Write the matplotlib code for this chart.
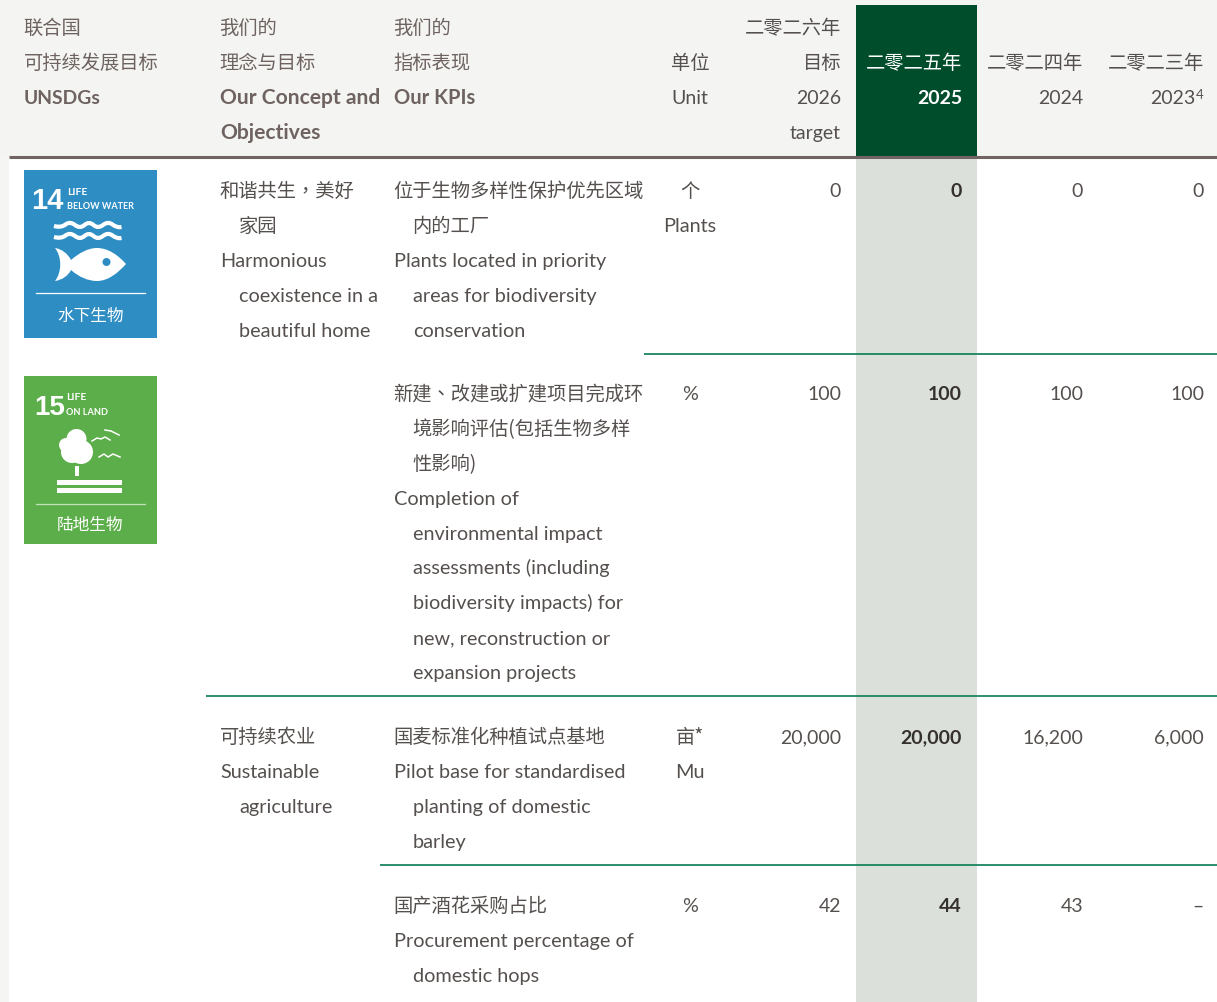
import matplotlib
matplotlib.use('Agg')
import matplotlib.pyplot as plt
from matplotlib.patches import Rectangle, Circle, PathPatch
from matplotlib.path import Path

# table content
un_head = ['联合国', '可持续发展目标', 'UNSDGs']
concept_head = ['我们的', '理念与目标', 'Our Concept and', 'Objectives']
kpi_head = ['我们的', '指标表现', 'Our KPIs']
unit_head = ['单位', 'Unit']
target_head = ['二零二六年', '目标', '2026', 'target']
y2025_head = ['二零二五年', '2025']
y2024_head = ['二零二四年', '2024']
y2023_head = ['二零二三年', '2023']

concepts = [
    [['和谐共生\uff0c美好', '家园'], ['Harmonious', 'coexistence in a', 'beautiful home']],
    [['可持续农业'], ['Sustainable', 'agriculture']],
]
kpis = [
    [['位于生物多样性保护优先区域', '内的工厂'],
     ['Plants located in priority', 'areas for biodiversity', 'conservation']],
    [['新建、改建或扩建项目完成环', '境影响评估(包括生物多样', '性影响)'],
     ['Completion of', 'environmental impact', 'assessments (including',
      'biodiversity impacts) for', 'new, reconstruction or', 'expansion projects']],
    [['国麦标准化种植试点基地'],
     ['Pilot base for standardised', 'planting of domestic', 'barley']],
    [['国产酒花采购占比'], ['Procurement percentage of', 'domestic hops']],
]
units = [['个', 'Plants'], ['%'], ['亩*', 'Mu'], ['%']]
target_2026 = ['0', '100', '20,000', '42']
values_2025 = ['0', '100', '20,000', '44']
values_2024 = ['0', '100', '16,200', '43']
values_2023 = ['0', '100', '6,000', '–']

row_tops = [190, 393, 736, 905]
concept_tops = [190, 736]
PITCH = 34.9

HEAD = '#6e6360'
BODY = '#55504e'
BOLD = '#35312f'
LATIN = ['Lato', 'Noto Sans CJK SC']
LATIN_PT = 14.3
DIGIT_PT = 14
CJK_PT = 13.9

fig = plt.figure(figsize=(12.17, 10.03), dpi=100)
ax = fig.add_axes([0, 0, 1, 1])
ax.set_xlim(0, 1217)
ax.set_ylim(1002, -1)
ax.axis('off')


def is_cjk(s):
    return any(ord(c) > 0x2E80 for c in s)


def put(x, y, s, ha='left', color=BODY, bold=False, pt=None):
    # y is the middle of the line, baseline sits 6px lower
    if is_cjk(s):
        fam = ['Noto Sans CJK TC'] if ('\uff0c' in s or '、' in s) else ['Noto Sans CJK SC']
        size = pt or CJK_PT
        if ha == 'left':
            x -= 1.5
    else:
        fam = LATIN
        size = pt or LATIN_PT
        if ha == 'left':
            x -= 1
    ax.text(x, y + 6, s, ha=ha, va='baseline', family=fam, fontsize=size, color=color,
            fontweight='bold' if bold else 'normal', zorder=5)


def box(x0, y0, x1, y1, color, z=1, **kw):
    ax.add_patch(Rectangle((x0, y0), x1 - x0, y1 - y0, fc=color, ec='none', zorder=z, **kw))


def hang(x, y, paragraphs):
    # first line of each paragraph at x, the others indented
    for para in paragraphs:
        for i, line in enumerate(para):
            put(x + (19 if i else 0), y, line)
            y += PITCH


# background
box(0, 0, 1217, 157, '#f4f5f3')
box(0, 157, 9, 1003, '#f5f6f4')
box(856, 157, 977, 1003, '#dbe0db')
box(856, 5, 977, 157, '#004d2b', z=2)

# rules
ax.plot([9, 1217], [157, 157], color='#6f6461', lw=2.2, zorder=3, solid_capstyle='butt')
for x0, x1, y in [(644, 1217, 354.3), (206, 1217, 696.3), (380, 1217, 865.3)]:
    ax.plot([x0, x1], [y, y], color='#1a8560', lw=1.3, zorder=3, solid_capstyle='butt')

# header
for i, s in enumerate(un_head):
    put(25, 27 + i * 35, s, color=HEAD, bold=(i == 2), pt=13.9 if i == 2 else None)
for i, s in enumerate(concept_head):
    put(221, 27 + i * 35, s, color=HEAD, bold=(i >= 2), pt=15.1 if i >= 2 else None)
for i, s in enumerate(kpi_head):
    put(395, 27 + i * 35, s, color=HEAD, bold=(i == 2), pt=14.5 if i == 2 else None)
for i, s in enumerate(unit_head):
    put(690, 62 + i * 35, s, ha='center', pt=14 if i == 1 else None)
for i, s in enumerate(target_head):
    put(841, 27 + i * 35, s, ha='right', pt=DIGIT_PT if i >= 2 else None)
for i, s in enumerate(y2025_head):
    put(962, 62 + i * 35, s, ha='right', color='white', bold=(i == 1), pt=DIGIT_PT if i == 1 else None)
for i, s in enumerate(y2024_head):
    put(1083, 62 + i * 35, s, ha='right', pt=DIGIT_PT if i == 1 else None)
put(1204, 62, y2023_head[0], ha='right')
put(1195, 97, y2023_head[1], ha='right', pt=DIGIT_PT)
put(1197, 92, '4', pt=9.5)

# body
for y, para in zip(concept_tops, concepts):
    hang(221, y, para)
for y, para in zip(row_tops, kpis):
    hang(395, y, para)
for y, lines in zip(row_tops, units):
    for i, s in enumerate(lines):
        put(690, y + i * PITCH, s, ha='center')
for i, y in enumerate(row_tops):
    put(841, y, target_2026[i], ha='right', pt=DIGIT_PT)
    put(962, y, values_2025[i], ha='right', color=BOLD, bold=True, pt=DIGIT_PT)
    put(1083, y, values_2024[i], ha='right', pt=DIGIT_PT)
    put(1204, y, values_2023[i], ha='right', pt=DIGIT_PT)

# SDG 14 tile
BLUE = '#2e8dc3'
box(24, 170, 157, 338, BLUE)
ax.text(31, 208, '14', family='Liberation Sans', fontweight='bold', fontsize=21, color='white', zorder=5)
ax.text(67, 193.5, 'LIFE', family='Lato', fontweight='bold', fontsize=7.5, color='white', zorder=5)
ax.text(67, 208, 'BELOW WATER', family='Lato', fontweight='bold', fontsize=6.5, color='white', zorder=5)
for wy in (225, 236):
    xs = [54, 61, 70, 80, 89, 98, 108, 117, 126]
    ys = [wy + 1, wy + 3, wy - 4, wy + 4, wy - 4, wy + 4, wy - 4, wy + 3, wy + 1]
    verts = [(xs[0], ys[0])]
    codes = [Path.MOVETO]
    for i in range(1, len(xs) - 1):
        verts += [(xs[i], ys[i]), ((xs[i] + xs[i + 1]) / 2, (ys[i] + ys[i + 1]) / 2)]
        codes += [Path.CURVE3, Path.CURVE3]
    ax.add_patch(PathPatch(Path(verts, codes), fc='none', ec='white', lw=3.0, zorder=4))
fish = Path(
    [(71, 260), (79, 253), (88, 248), (97, 248),
     (108, 248), (118, 255), (126, 264),
     (118, 273), (108, 281), (97, 281),
     (88, 281), (79, 277), (71, 270),
     (68, 276), (62, 280), (55, 281),
     (62, 272), (62, 257), (55, 248),
     (62, 249), (68, 254), (71, 260)],
    [Path.MOVETO] + [Path.CURVE4] * 21)
ax.add_patch(PathPatch(fish, fc='white', ec='none', zorder=4))
ax.add_patch(Circle((106.5, 262), 4, fc=BLUE, ec='none', zorder=5))
ax.plot([36, 145], [293, 293], color='white', lw=0.9, zorder=4)
ax.text(90.5, 315, '水下生物', family='Noto Sans CJK SC', fontsize=12, color='white',
        ha='center', va='center', zorder=5)

# SDG 15 tile
GREEN = '#5cae4a'
box(24, 376, 157, 544, GREEN)
ax.text(34, 414, '15', family='Liberation Sans', fontweight='bold', fontsize=20, color='white', zorder=5)
ax.text(66, 399, 'LIFE', family='Lato', fontweight='bold', fontsize=7.5, color='white', zorder=5)
ax.text(66, 414, 'ON LAND', family='Lato', fontweight='bold', fontsize=6.6, color='white', zorder=5)
for cx, cy, r in [(76.5, 439, 10), (66, 445, 7), (81, 452, 12), (72, 452, 11)]:
    ax.add_patch(Circle((cx, cy), r, fc='white', ec='none', zorder=4))
box(74.5, 466, 79, 476, 'white', z=4)
box(57, 480, 122, 484.5, 'white', z=4)
box(57, 488, 122, 493, 'white', z=4)
for bird in ([(92, 441), (97, 438), (101, 439), (105, 437), (110, 440)],
             [(105, 430), (111, 431), (115, 433), (119, 435)],
             [(99, 457), (104, 454), (108, 457), (113, 454), (120, 457)]):
    ax.plot([p[0] for p in bird], [p[1] for p in bird], color='white', lw=1.1, zorder=4)
ax.plot([36, 145], [504, 504], color='#c3dfbc', lw=0.9, zorder=4)
ax.text(90.5, 524, '陆地生物', family='Noto Sans CJK SC', fontsize=12, color='white',
        ha='center', va='center', zorder=5)

fig.savefig('out.png', dpi=100)
